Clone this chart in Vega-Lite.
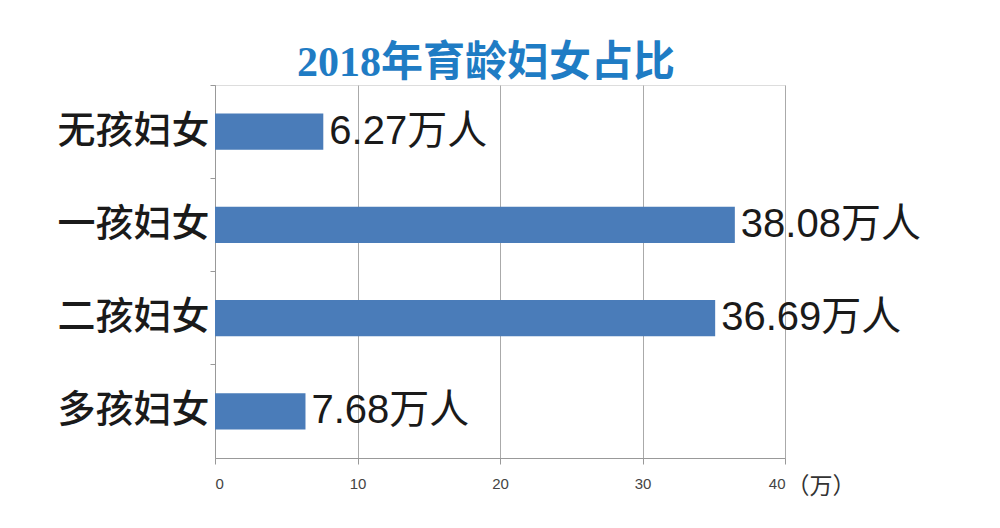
{
  "$schema": "https://vega.github.io/schema/vega-lite/v6.json",
  "autosize": {"type": "none"},
  "padding": {"left": 215, "top": 85, "right": 215, "bottom": 70},
  "width": 570,
  "height": 373,
  "background": "white",
  "title": {
    "text": "2018年育龄妇女占比",
    "font": "Liberation Serif, Noto Sans CJK SC",
    "fontSize": 42,
    "fontWeight": "bold",
    "color": "#1f7cc4",
    "anchor": "middle",
    "dx": -14,
    "baseline": "alphabetic",
    "offset": 10,
    "dy": 43
  },
  "data": {
    "values": [
      {"group": "无孩妇女", "bar": 7.6, "label": "6.27万人"},
      {"group": "一孩妇女", "bar": 36.48, "label": "38.08万人"},
      {"group": "二孩妇女", "bar": 35.1, "label": "36.69万人"},
      {"group": "多孩妇女", "bar": 6.35, "label": "7.68万人"}
    ]
  },
  "encoding": {
    "y": {
      "field": "group",
      "type": "nominal",
      "sort": null,
      "scale": {"paddingInner": 0, "paddingOuter": 0},
      "axis": {
        "title": null,
        "bandPosition": 0,
        "labelFont": "Noto Sans CJK SC",
        "labelFontSize": 38,
        "labelFontWeight": 500,
        "labelColor": "#1a1a1a",
        "labelPadding": 1,
        "tickSize": 5,
        "tickColor": "#999999",
        "domainColor": "#999999",
        "grid": false
      }
    },
    "x": {
      "field": "bar",
      "type": "quantitative",
      "scale": {"domain": [0, 40], "nice": false},
      "axis": {
        "values": [0, 10, 20, 30, 40],
        "title": "（万）",
        "titleFont": "Noto Sans CJK SC",
        "titleFontSize": 23,
        "titleFontWeight": "normal",
        "titleColor": "#333333",
        "titleAlign": "left",
        "titleBaseline": "middle",
        "titleAnchor": "start",
        "titleX": 571,
        "titleY": 28,
        "labelFont": "Liberation Sans Narrow, Liberation Sans",
        "labelFontSize": 15,
        "labelColor": "#444444",
        "labelPadding": 12,
        "tickSize": 6,
        "tickColor": "#999999",
        "domainColor": "#999999",
        "grid": true,
        "gridColor": "#aaaaaa",
        "gridWidth": 1
      }
    }
  },
  "layer": [
    {
      "mark": {"type": "bar", "color": "#4a7cb9", "height": {"band": 0.39}}
    },
    {
      "mark": {
        "type": "text",
        "align": "left",
        "baseline": "middle",
        "dx": 6,
        "font": "Liberation Sans, Noto Sans CJK SC",
        "fontSize": 40,
        "color": "#1a1a1a"
      },
      "encoding": {"text": {"field": "label"}}
    }
  ]
}
